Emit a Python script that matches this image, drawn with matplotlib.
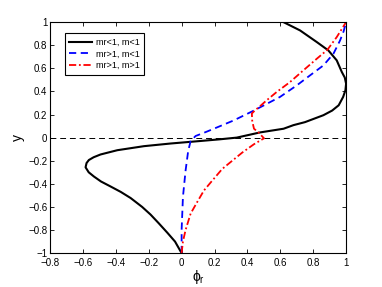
import matplotlib
matplotlib.use("Agg")
import matplotlib.pyplot as plt

plt.rcParams["font.family"] = ["Liberation Sans", "DejaVu Sans"]
plt.rcParams["mathtext.fontset"] = "custom"
plt.rcParams["mathtext.rm"] = "Liberation Sans"
plt.rcParams["mathtext.it"] = "Liberation Sans"

# curves: y positions and phi_r values
y_black = [-1.0, -0.9, -0.823, -0.74, -0.666, -0.6, -0.523, -0.47, -0.423, -0.38,
           -0.337, -0.3, -0.257, -0.22, -0.194, -0.17, -0.146, -0.109, -0.074,
           -0.051, -0.029, -0.015, 0.0, 0.045, 0.077, 0.108, 0.134, 0.194, 0.234,
           0.28, 0.352, 0.41, 0.467, 0.52, 0.568, 0.669, 0.755, 0.827, 0.928, 1.0]
phi_black = [0.0, -0.04, -0.087, -0.14, -0.189, -0.24, -0.31, -0.37, -0.432, -0.49,
             -0.533, -0.565, -0.584, -0.578, -0.564, -0.535, -0.493, -0.391, -0.229,
             -0.067, 0.116, 0.23, 0.335, 0.477, 0.62, 0.68, 0.75, 0.862, 0.915,
             0.955, 0.982, 0.996, 1.0, 0.992, 0.974, 0.943, 0.892, 0.822, 0.72, 0.619]

y_blue = [-1.0, -0.8, -0.514, -0.286, -0.114, -0.029, 0.014, 0.05, 0.077, 0.149,
          0.234, 0.352, 0.452, 0.539, 0.625, 0.726, 0.84, 0.92, 1.0]
phi_blue = [0.0, 0.0, 0.008, 0.024, 0.04, 0.055, 0.085, 0.15, 0.196, 0.317,
            0.439, 0.598, 0.7, 0.781, 0.862, 0.923, 0.963, 0.985, 1.0]

y_red = [-1.0, -0.9, -0.8, -0.657, -0.557, -0.457, -0.371, -0.271, -0.2, -0.129,
         -0.057, -0.006, 0.045, 0.077, 0.108, 0.149, 0.209, 0.237, 0.276, 0.323,
         0.395, 0.481, 0.582, 0.683, 0.76, 0.87, 1.0]
phi_red = [0.0, 0.008, 0.024, 0.055, 0.095, 0.136, 0.187, 0.247, 0.308, 0.369,
           0.44, 0.501, 0.467, 0.44, 0.435, 0.429, 0.427, 0.447, 0.48, 0.517,
           0.578, 0.659, 0.74, 0.822, 0.886, 0.943, 1.0]

labels = ["mr<1, m<1", "mr>1, m<1", "mr>1, m>1"]
xticks = [-0.8, -0.6, -0.4, -0.2, 0, 0.2, 0.4, 0.6, 0.8, 1]
yticks = [-1, -0.8, -0.6, -0.4, -0.2, 0, 0.2, 0.4, 0.6, 0.8, 1]

fig = plt.figure(figsize=(3.82, 2.87), dpi=100)
ax = fig.add_axes([0.131, 0.118, 0.775, 0.805])

ax.axhline(0, color="black", lw=0.7, ls=(0, (6, 4)))
ax.plot(phi_black, y_black, color="black", lw=1.5, label=labels[0])
ax.plot(phi_blue, y_blue, color="#0000ff", lw=1.3, ls=(0, (4, 2.5)), label=labels[1])
ax.plot(phi_red, y_red, color="#ff0000", lw=1.3, ls=(0, (4, 1.5, 1, 1.5)), label=labels[2])

ax.set_xlim(-0.8, 1)
ax.set_ylim(-1, 1)
ax.set_xticks(xticks)
ax.set_yticks(yticks)
ax.set_xticklabels(["\u22120.8", "\u22120.6", "\u22120.4", "\u22120.2", "0",
                    "0.2", "0.4", "0.6", "0.8", "1"])
ax.set_yticklabels(["\u22121", "\u22120.8", "\u22120.6", "\u22120.4", "\u22120.2", "0",
                    "0.2", "0.4", "0.6", "0.8", "1"])
ax.tick_params(direction="in", top=True, right=True, labelsize=7, length=3, width=0.6, pad=2)
ax.tick_params(axis="x", pad=3.5)
for s in ax.spines.values():
    s.set_linewidth(0.8)

ax.set_xlabel(r"$\phi_r$", fontsize=10, labelpad=0)
ax.set_ylabel("y", fontsize=10, labelpad=2)

leg = ax.legend(loc="upper left", bbox_to_anchor=(0.05, 0.952), borderaxespad=0,
                fontsize=6.5, handlelength=2.5, handletextpad=0.4, borderpad=0.5,
                labelspacing=0.3, fancybox=False, framealpha=1, edgecolor="black")
leg.get_frame().set_linewidth(0.8)

fig.savefig("out.png", dpi=100)
